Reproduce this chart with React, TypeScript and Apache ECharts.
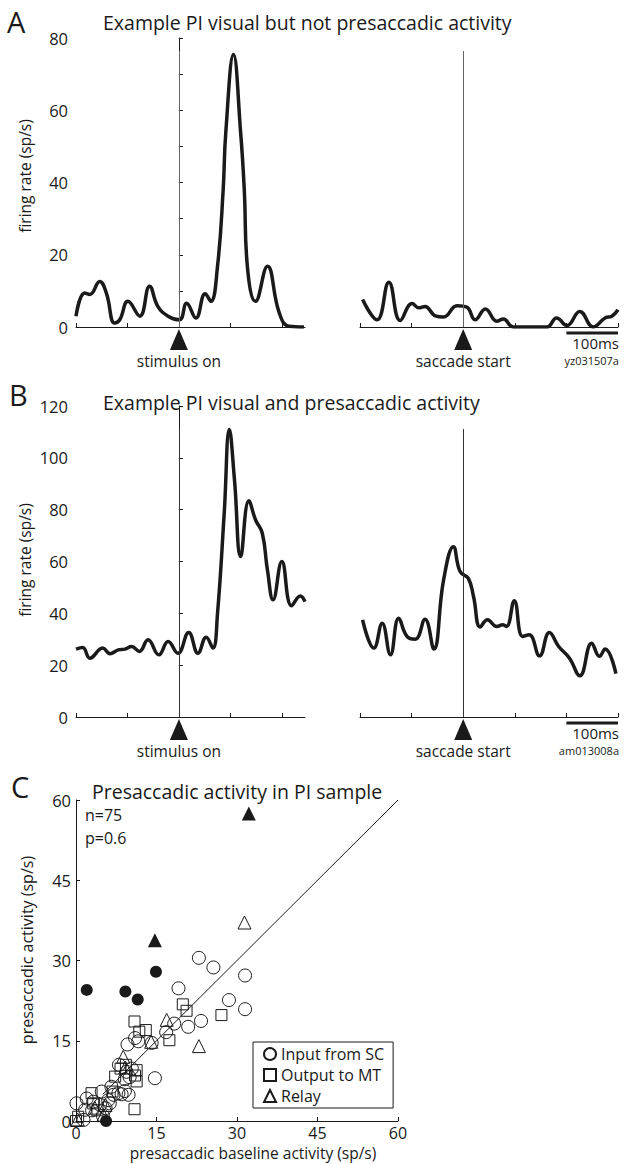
import React, { useEffect, useRef } from "react";
import * as echarts from "echarts";

const FONT = "'Open Sans', 'Noto Sans', sans-serif";
const INK = "#1a1a1a";

// ---------- Panel A : visual but not presaccadic ----------
const aStimTime = [-200, -183, -173, -154, -141, -125, -115, -99, -76, -57, -41, -21, 1, 15, 33, 51, 62, 75, 86, 91, 106, 120, 127, 133, 149, 172, 195, 214, 243];
const aStimRate = [3, 9.4, 9, 12.6, 9.4, 1.1, 2, 7.1, 3, 11.3, 5.7, 3, 2, 6.6, 2.5, 9.2, 7.1, 16.8, 38, 53.7, 75.4, 53.7, 38, 16.8, 7.1, 16.8, 3.9, 0.2, 0];
const aSaccTime = [-195, -167, -144, -122, -99, -86, -74, -54, -38, -12, 7, 23, 43, 65, 78, 97, 162, 181, 201, 226, 252, 275, 288, 300];
const aSaccRate = [7.6, 2, 12.4, 1.8, 6.5, 5.3, 5.7, 3.1, 2.8, 5.9, 5.5, 2, 5, 1.6, 2.2, 0, 0, 2.5, 0.4, 4.3, 0, 2.5, 3, 4.8];

// ---------- Panel B : visual and presaccadic ----------
const bStimTime = [-200, -187, -173, -148, -134, -118, -105, -92, -77, -60, -39, -21, -2, 19, 37, 53, 66, 75, 88, 98, 108, 120, 136, 149, 162, 172, 183, 200, 219, 236, 245];
const bStimRate = [26.2, 26.8, 22.7, 26.6, 24.4, 25.9, 26.2, 27.2, 25.3, 29.8, 24, 29.1, 24.6, 32.6, 24.6, 30.8, 26.6, 40, 78.6, 110.9, 91.4, 61.9, 83.4, 76, 70.9, 56.7, 45.2, 60, 42.9, 46.7, 44.5];
const bSaccTime = [-195, -173, -157, -141, -125, -109, -93, -74, -57, -38, -19, -6, 10, 20, 33, 47, 65, 77, 84, 99, 115, 128, 148, 167, 185, 206, 226, 249, 264, 275, 296];
const bSaccRate = [37.5, 26.6, 36.2, 24, 38.1, 31.1, 30, 37.7, 26.2, 52.9, 65.7, 56.1, 53.5, 46.5, 34.7, 37.5, 34.9, 35.6, 34.9, 44.9, 31.1, 31.7, 23.6, 32.6, 27.2, 22.7, 15.9, 28.5, 23.4, 26.2, 16.7];

// ---------- Panel C : scatter ----------
const inputFromSC = [
  [22.9, 30.5], [25.6, 28.7], [31.5, 27.2], [19.1, 24.8], [28.5, 22.6], [31.5, 20.9], [23.3, 18.7], [20.9, 17.6],
  [18.3, 18.2], [16.8, 16.6], [14.7, 8.0], [14.1, 14.6], [11.6, 14.9], [9.6, 14.3], [11.0, 15.5], [10.4, 9.8],
  [9.4, 9.2], [9.1, 7.8], [8.0, 10.5], [9.1, 5.6], [9.8, 4.9], [7.9, 5.2], [7.0, 4.9], [6.6, 6.4], [4.8, 5.5],
  [5.5, 2.4], [6.3, 3.3], [6.0, 3.9], [3.2, 3.6], [2.0, 4.2], [1.7, 2.1], [0.1, 3.3], [1.4, 0.2], [4.5, 3.0],
  [8.5, 5.0], [3.0, 2.0], [5.0, 1.0], [10.0, 8.2],
];
const outputToMT = [
  [19.9, 21.8], [20.6, 20.6], [27.1, 19.8], [10.9, 18.6], [11.8, 16.7], [13.0, 17.0], [17.4, 15.1], [11.3, 9.5],
  [11.3, 7.4], [10.9, 2.2], [7.3, 8.3], [8.3, 9.8], [6.8, 5.5], [2.9, 5.2], [0, 0], [0.4, 0.8], [3.2, 3.3],
  [9.3, 10.5], [4.0, 2.0], [11.0, 8.5],
];
const relay = [
  [31.4, 37.1], [22.9, 14.0], [16.9, 18.9], [14.0, 14.8], [8.8, 12.0], [5.1, 1.1], [0.3, 0.3], [9.2, 10.0],
  [5.5, 3.0], [3.5, 2.5],
];
const filledCircles = [[2.0, 24.5], [9.2, 24.2], [11.5, 22.7], [14.9, 27.9], [5.6, 0]];
const filledTriangles = [[32.2, 57.5], [14.7, 33.8]];
const unityLine = [[5, 5], [60, 60]];

const timeTicksLeft = [-200, -100, 0, 100, 200];
const timeTicksRight = [-200, -100, 0, 100, 200, 300];

const zip = (xs: number[], ys: number[]) => xs.map((x, i) => [x, ys[i]]);

export default function App() {
  const ref = useRef<HTMLDivElement>(null);
  useEffect(() => {
    document.body.style.margin = "0";
    const chart = echarts.init(ref.current!, null, { renderer: "svg" });
    const labelStyle = { fontFamily: FONT, fontSize: 16.5, color: INK };
    const axisLine = { show: true, lineStyle: { color: INK, width: 1 } };

    const timeX = (grid: number, max: number, ticks: number[]) => ({
      type: "value", gridIndex: grid, min: -200, max,
      axisLine, axisLabel: { show: false },
      axisTick: { show: true, inside: true, length: 4, customValues: ticks, lineStyle: { color: INK } },
      splitLine: { show: false },
    });
    const rateY = (grid: number, max: number, step: number, labelStep: number, show: boolean) => ({
      type: "value", gridIndex: grid, min: 0, max, interval: step, show,
      axisLine, splitLine: { show: false },
      axisTick: { show: true, inside: true, length: 4, lineStyle: { color: INK } },
      axisLabel: { ...labelStyle, margin: 8, formatter: (v: number) => (v % labelStep === 0 ? String(v) : "") },
    });

    const trace = (name: string, xi: number, data: number[][], lineTop: number, lineColor: string) => ({
      type: "line", name, xAxisIndex: xi, yAxisIndex: xi, data, smooth: 0.45, showSymbol: false, silent: true,
      lineStyle: { color: INK, width: 3.5 },
      markLine: {
        silent: true, symbol: ["none", "none"], label: { show: false },
        lineStyle: { color: lineColor, width: 1, type: "solid" },
        data: [[{ coord: [0, 0] }, { coord: [0, lineTop] }]],
      },
    });

    const open = (name: string, data: number[][], symbol: string, size: number) => ({
      type: "scatter", name, xAxisIndex: 4, yAxisIndex: 4, data, symbol, symbolSize: size,
      itemStyle: { color: "rgba(255,255,255,0)", borderColor: INK, borderWidth: 1, opacity: 1 },
    });

    chart.setOption({
      animation: false,
      backgroundColor: "#fff",
      grid: [
        { left: 76, top: 38, width: 229, height: 289 },
        { left: 360, top: 38, width: 258, height: 289 },
        { left: 76, top: 406, width: 229, height: 311 },
        { left: 360, top: 406, width: 258, height: 311 },
        { left: 76, top: 800, width: 322, height: 321 },
      ],
      xAxis: [
        timeX(0, 245, timeTicksLeft),
        timeX(1, 300, timeTicksRight),
        timeX(2, 245, timeTicksLeft),
        timeX(3, 300, timeTicksRight),
        {
          type: "value", gridIndex: 4, min: 0, max: 60, interval: 15, axisLine, splitLine: { show: false },
          axisTick: { show: true, inside: true, length: 4, lineStyle: { color: INK } },
          axisLabel: { ...labelStyle, fontSize: 16, lineHeight: 14, margin: 5 },
        },
      ],
      yAxis: [
        rateY(0, 80, 10, 20, true),
        rateY(1, 80, 10, 20, false),
        rateY(2, 120, 20, 20, true),
        rateY(3, 120, 20, 20, false),
        {
          type: "value", gridIndex: 4, min: 0, max: 60, interval: 15, axisLine, splitLine: { show: false },
          axisTick: { show: true, inside: true, length: 4, lineStyle: { color: INK } },
          axisLabel: { ...labelStyle, margin: 5 },
        },
      ],
      legend: {
        data: ["Input from SC", "Output to MT", "Relay"],
        orient: "vertical", left: 253, top: 1042,
        borderColor: INK, borderWidth: 1, padding: [4, 9, 4, 10], itemGap: 5,
        itemWidth: 12, itemHeight: 12, selectedMode: false,
        textStyle: { fontFamily: FONT, fontSize: 16, color: INK },
      },
      series: [
        trace("A stim", 0, zip(aStimTime, aStimRate), 76.4, "#666"),
        trace("A sacc", 1, zip(aSaccTime, aSaccRate), 76.4, "#666"),
        trace("B stim", 2, zip(bStimTime, bStimRate), 111.1, "#333"),
        trace("B sacc", 3, zip(bSaccTime, bSaccRate), 111.1, "#333"),
        {
          type: "line", name: "unity", xAxisIndex: 4, yAxisIndex: 4, data: unityLine, showSymbol: false,
          silent: true, lineStyle: { color: INK, width: 1 },
        },
        open("Input from SC", inputFromSC, "circle", 13),
        open("Output to MT", outputToMT, "rect", 11),
        open("Relay", relay, "triangle", 13),
        {
          type: "scatter", name: "filled circles", xAxisIndex: 4, yAxisIndex: 4, data: filledCircles,
          symbol: "circle", symbolSize: 12, itemStyle: { color: INK, opacity: 1 }, clip: false,
        },
        {
          type: "scatter", name: "filled triangles", xAxisIndex: 4, yAxisIndex: 4, data: filledTriangles,
          symbol: "triangle", symbolSize: 14, itemStyle: { color: INK, opacity: 1 },
        },
      ],
    });

    // annotations placed with the library's own coordinate conversion
    const px = (g: number, v: number[]) => chart.convertToPixel({ gridIndex: g } as any, v) as number[];
    const text = (x: number, y: number, t: string, size: number, extra: any = {}) => ({
      type: "text", x, y, silent: true,
      style: { text: t, fontFamily: FONT, fontSize: size, lineHeight: size, fill: INK, align: "left", verticalAlign: "middle", ...extra },
    });
    const gfx: any[] = [];
    const eventMarker = (g: number, label: string) => {
      const [cx, cy] = px(g, [0, 0]);
      gfx.push({
        type: "polygon", silent: true,
        shape: { points: [[cx, cy + 2], [cx - 9, cy + 23], [cx + 9, cy + 23]] },
        style: { fill: INK },
      });
      gfx.push(text(cx, cy + 34, label, 15.5, { align: "center" }));
    };
    const scaleBar = (g: number, id: string) => {
      const [x1, cy] = px(g, [200, 0]);
      const [x2] = px(g, [300, 0]);
      gfx.push({ type: "line", silent: true, shape: { x1, y1: cy + 6, x2, y2: cy + 6 }, style: { stroke: INK, lineWidth: 3 } });
      gfx.push(text(x2 + 1, cy + 16, "100ms", 15, { align: "right" }));
      gfx.push(text(x2 + 1, cy + 33, id, 11, { align: "right" }));
    };
    eventMarker(0, "stimulus on");
    eventMarker(1, "saccade start");
    eventMarker(2, "stimulus on");
    eventMarker(3, "saccade start");
    scaleBar(1, "yz031507a");
    scaleBar(3, "am013008a");

    const rotated = (x: number, y: number, t: string, size: number) => ({ ...text(x, y, t, size, { align: "center" }), rotation: Math.PI / 2 });
    gfx.push(text(7, 21, "A", 29));
    gfx.push(text(9, 394, "B", 29));
    gfx.push(text(11, 786, "C", 29));
    gfx.push(text(103, 22, "Example PI visual but not presaccadic activity", 19.5));
    gfx.push(text(103, 402, "Example PI visual and presaccadic activity", 19.5));
    gfx.push(text(92, 791, "Presaccadic activity in PI sample", 19.5));
    gfx.push(text(85, 815, "n=75", 16));
    gfx.push(text(85, 838, "p=0.6", 16));
    gfx.push(rotated(25, 176, "firing rate (sp/s)", 15.5));
    gfx.push(rotated(25, 560, "firing rate (sp/s)", 15.5));
    gfx.push(rotated(27, 950, "presaccadic activity (sp/s)", 16));
    gfx.push(text(253, 1153, "presaccadic baseline activity (sp/s)", 15.5, { align: "center" }));

    chart.setOption({ graphic: gfx });
    return () => chart.dispose();
  }, []);

  return <div ref={ref} style={{ position: "absolute", left: 0, top: 0, width: 632, height: 1164 }} />;
}
